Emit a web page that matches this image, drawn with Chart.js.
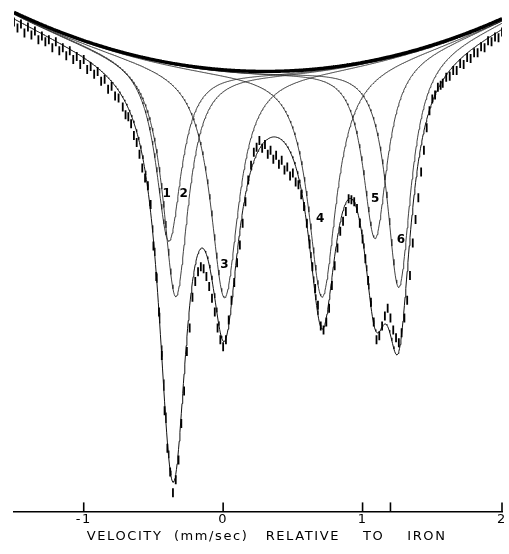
<!DOCTYPE html>
<html>
<head>
<meta charset="utf-8">
<script src="https://cdn.jsdelivr.net/npm/chart.js@4/dist/chart.umd.min.js"></script>
<style>
  html, body { margin: 0; padding: 0; background: #fff; }
  canvas { display: block; }
</style>
</head>
<body>
<canvas id="spectrum" width="509" height="554"></canvas>
<script>
// Measured spectrum: source velocity (mm/s) and relative transmission (%)
const velocity = [
  -1.500, -1.475, -1.450, -1.425, -1.400, -1.375, -1.350, -1.325, -1.300, -1.275,
  -1.250, -1.225, -1.200, -1.175, -1.150, -1.125, -1.100, -1.075, -1.050, -1.025,
  -1.000, -0.975, -0.950, -0.925, -0.900, -0.875, -0.850, -0.825, -0.800, -0.775,
  -0.750,
  -0.72, -0.70, -0.68, -0.66, -0.64, -0.62, -0.60, -0.58, -0.56, -0.54,
  -0.52, -0.50, -0.48, -0.46, -0.44, -0.42, -0.40, -0.38, -0.36, -0.34,
  -0.32, -0.30, -0.28, -0.26, -0.24, -0.22, -0.20, -0.18, -0.16, -0.14,
  -0.12, -0.10, -0.08, -0.06, -0.04, -0.02, 0.00, 0.02, 0.04, 0.06,
  0.08, 0.10, 0.12, 0.14, 0.16, 0.18, 0.20, 0.22, 0.24, 0.26,
  0.28, 0.30, 0.32, 0.34, 0.36, 0.38, 0.40, 0.42, 0.44, 0.46,
  0.48, 0.50, 0.52, 0.54, 0.56, 0.58, 0.60, 0.62, 0.64, 0.66,
  0.68, 0.70, 0.72, 0.74, 0.76, 0.78, 0.80, 0.82, 0.84, 0.86,
  0.88, 0.90, 0.92, 0.94, 0.96, 0.98, 1.00, 1.02, 1.04, 1.06,
  1.08, 1.10, 1.12, 1.14, 1.16, 1.18, 1.20, 1.22, 1.24, 1.26,
  1.28, 1.30, 1.32, 1.34, 1.36, 1.38, 1.40, 1.42, 1.44, 1.46,
  1.48, 1.50, 1.52, 1.54, 1.56,
  1.575, 1.600, 1.625, 1.650, 1.675, 1.700, 1.725, 1.750, 1.775, 1.800,
  1.825, 1.850, 1.875, 1.900, 1.925, 1.950, 1.975, 2.000
];
const transmission = [
  99.20, 98.90, 99.10, 98.65, 98.95, 98.55, 98.75, 98.30, 98.50, 98.20,
  98.30, 97.90, 98.20, 97.75, 97.90, 97.50, 97.75, 97.30, 97.45, 97.05,
  97.30, 96.80, 96.95, 96.55, 96.70, 96.20, 96.30, 95.80, 95.95, 95.45,
  95.35,
  94.90, 94.50, 94.40, 94.05, 93.45, 93.10, 92.50, 91.80, 91.30, 90.90,
  89.95, 87.85, 86.30, 84.50, 82.30, 79.50, 77.60, 76.40, 75.35, 76.00,
  77.00, 78.85, 80.50, 82.50, 83.70, 85.25, 86.05, 86.55, 86.80, 86.70,
  86.30, 85.80, 85.20, 84.50, 83.70, 83.10, 82.75, 83.10, 84.10, 85.10,
  86.00, 87.00, 87.90, 89.00, 90.10, 91.20, 91.95, 92.60, 92.85, 93.20,
  92.80, 93.00, 92.50, 92.70, 92.25, 92.45, 92.00, 92.20, 91.70, 91.85,
  91.40, 91.55, 91.10, 90.95, 90.45, 89.85, 89.00, 87.95, 86.80, 85.70,
  84.85, 83.80, 83.60, 84.00, 84.70, 85.85, 86.85, 87.75, 88.60, 89.10,
  89.60, 90.25, 90.20, 90.10, 89.75, 89.00, 88.20, 87.20, 86.10, 85.00,
  84.00, 83.10, 83.30, 83.80, 84.30, 84.70, 84.20, 83.60, 83.20, 82.95,
  83.45, 84.20, 85.10, 86.35, 88.00, 89.20, 90.30, 91.60, 92.70, 93.85,
  94.70, 95.30, 95.50, 95.90, 96.00,
  96.10, 96.40, 96.45, 96.75, 96.75, 97.10, 97.05, 97.40, 97.35, 97.65,
  97.65, 97.95, 97.90, 98.25, 98.20, 98.45, 98.40, 98.70
];

// Fitted absorption lines: centre (mm/s), depth (%), half width at half maximum (mm/s)
const linePosition  = [-0.39, -0.34, 0.01, 0.71, 1.09, 1.26];
const lineDepth     = [9.05, 11.80, 11.55, 11.60, 9.05, 11.80];
const lineHalfWidth = [0.110, 0.110, 0.122, 0.122, 0.105, 0.105];
const lineLabels    = ['1', '2', '3', '4', '5', '6'];

// Curved background (parabolic in velocity)
const baseLevel = 96.7;
const baseCurvature = 0.925;
const baseCentre = 0.30;

// Axis ticks
const tickValues = [-1, 0, 1, 1.2, 2];
const tickLabels = ['-1', '0', '1', '', '2'];
const axisTitle = '   VELOCITY  (mm/sec)   RELATIVE    TO    IRON';

// ---- model curves built from the parameters above ----
function background(v) {
  return baseLevel + baseCurvature * (v - baseCentre) * (v - baseCentre);
}
function lorentzian(v, i) {
  const g = lineHalfWidth[i];
  const d = v - linePosition[i];
  return lineDepth[i] * g * g / (g * g + d * d);
}
const grid = [];
for (let k = 0; k <= 700; k++) grid.push(-1.5 + k * 0.005);

const baseCurve = grid.map(v => ({ x: v, y: background(v) }));
const lineCurves = linePosition.map((_, i) =>
  grid.map(v => ({ x: v, y: background(v) - lorentzian(v, i) })));
const fitCurve = grid.map(v => {
  let a = 0;
  for (let i = 0; i < linePosition.length; i++) a += lorentzian(v, i);
  return { x: v, y: background(v) - a };
});
const measured = velocity.map((v, i) => ({ x: v, y: transmission[i] }));

const datasets = [];
lineCurves.forEach((pts, i) => datasets.push({
  label: 'line ' + lineLabels[i],
  data: pts,
  showLine: true,
  borderColor: '#2b2b2b',
  borderWidth: 0.9,
  pointRadius: 0,
  order: 4
}));
datasets.push({
  label: 'fit',
  data: fitCurve,
  showLine: true,
  borderColor: '#111',
  borderWidth: 1,
  pointRadius: 0,
  order: 3
});
datasets.push({
  label: 'measured',
  data: measured,
  showLine: false,
  pointStyle: 'line',
  rotation: 90,
  pointRadius: 4.5,
  pointBorderWidth: 1.8,
  pointBorderColor: '#000',
  borderColor: '#000',
  order: 2
});
datasets.push({
  label: 'background',
  data: baseCurve,
  showLine: true,
  borderColor: '#000',
  borderWidth: 3.4,
  pointRadius: 0,
  order: 1
});

// Number tags beside each fitted line, offset (px) from the line minimum
const tagOffsets = [[-2, -47], [8, -103], [0, -33], [-2, -78], [0, -40], [2, -48]];

const spectrumDecor = {
  id: 'spectrumDecor',
  beforeDraw(chart) {
    chart.ctx.letterSpacing = '1.6px';
  },
  beforeDatasetsDraw(chart) {
    chart.ctx.letterSpacing = '0px';
  },
  afterDraw(chart) {
    const ctx = chart.ctx;
    const xs = chart.scales.x, ys = chart.scales.y;
    ctx.save();
    // upward tick marks on the velocity axis
    ctx.strokeStyle = '#000';
    ctx.lineWidth = 1.6;
    tickValues.forEach(v => {
      const px = xs.getPixelForValue(v);
      ctx.beginPath();
      ctx.moveTo(px, xs.top);
      ctx.lineTo(px, xs.top - 9);
      ctx.stroke();
    });
    // line numbers
    ctx.fillStyle = '#000';
    ctx.font = 'bold 12px "DejaVu Sans"';
    ctx.textAlign = 'center';
    ctx.textBaseline = 'middle';
    linePosition.forEach((p, i) => {
      const px = xs.getPixelForValue(p) + tagOffsets[i][0];
      const py = ys.getPixelForValue(background(p) - lineDepth[i]) + tagOffsets[i][1];
      ctx.fillText(lineLabels[i], px, py);
    });
    ctx.restore();
  }
};

new Chart(document.getElementById('spectrum'), {
  type: 'scatter',
  data: { datasets },
  options: {
    responsive: false,
    maintainAspectRatio: false,
    animation: false,
    events: [],
    layout: { padding: { left: 14, right: 7, top: 2, bottom: 6 } },
    plugins: { legend: { display: false }, tooltip: { enabled: false } },
    scales: {
      x: {
        type: 'linear',
        position: 'bottom',
        min: -1.5,
        max: 2.0,
        afterBuildTicks: s => { s.ticks = tickValues.map(v => ({ value: v })); },
        ticks: {
          autoSkip: false,
          maxRotation: 0,
          padding: 2,
          color: '#000',
          font: { family: 'DejaVu Sans', size: 13, lineHeight: 1 },
          callback: (value, index) => tickLabels[index]
        },
        grid: { display: false, drawTicks: false },
        border: { display: true, color: '#000', width: 1.6 },
        title: {
          display: true,
          text: axisTitle,
          color: '#000',
          font: { family: 'DejaVu Sans', size: 13 },
          padding: { top: 0, bottom: 4 }
        }
      },
      y: { display: false, min: 74.4, max: 100 }
    }
  },
  plugins: [spectrumDecor]
});
</script>
</body>
</html>
